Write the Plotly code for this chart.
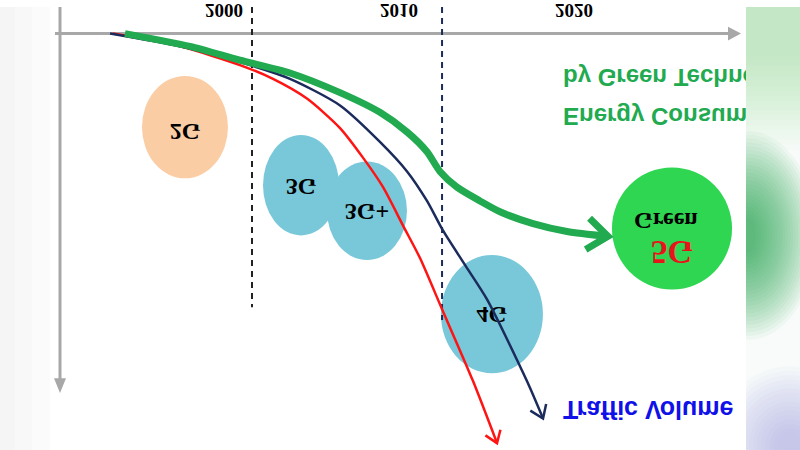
import math
import plotly.graph_objects as go

# ---------------- data ----------------
tick_years = [2000, 2010, 2020]
tick_labels = ["2000", "2010", "2020"]

era_boundary_years = [2001.6, 2012.46]
era_boundary_tops = [69.5, 72.75]

# red curve
red_year = [1993.66, 1997.49, 2000.91, 2002.8, 2004.74, 2006.63, 2007.94, 2009.09, 2010.23, 2011.2, 2012.46, 2014.23, 2015.6]
red_val = [0, 3.25, 8, 11.5, 16.5, 24, 31.5, 39, 48.75, 57, 70, 88.25, 104]

# navy curve: traffic volume
traffic_year = [1993.49, 1997.49, 2000.91, 2003.77, 2006.63, 2008.91, 2010.46, 2011.6, 2012.51, 2013.77, 2015.03, 2017.31, 2018.23]
traffic_val = [0, 3.25, 7.25, 11.5, 18.25, 27.5, 35, 42.5, 50, 58.75, 67.5, 88.25, 97.75]

# green curve: energy consumption by green technology
energy_year = [1994.34, 1998.06, 2000.91, 2003.77, 2006.63, 2008.91, 2010.46, 2011.6, 2012.34, 2013.31, 2014.63, 2015.77, 2017.66, 2019.6, 2021.94]
energy_val = [0, 3.25, 6.75, 10, 15, 20, 25, 30, 35, 39, 42.5, 45.25, 48.25, 50.25, 51.5]

generations = ["2G", "3G", "3G+", "4G"]
gen_year = [1997.77, 2004.4, 2008.17, 2015.31]
gen_val = [23.75, 38.5, 45, 71.25]
gen_colors = ["#FACDA5", "#78C8DA", "#78C8DA", "#78C8DA"]
gen_half_w = [2.457, 2.171, 2.286, 2.914]
gen_half_h = [13, 12.75, 12.5, 15]
gen_label_val = [24.5, 38.5, 44.75, 71.0]

green5g_year = 2025.6
green5g_val = 49.5

# ---------------- geometry ----------------
W, H = 800, 450
X_RANGE = [1987.2, 1987.2 + W / 17.5]
Y_RANGE = [-6.75, -6.75 + H / 4.0]
SX = W / (X_RANGE[1] - X_RANGE[0])
SY = H / (Y_RANGE[1] - Y_RANGE[0])


def to_px(x, y):
    return (x - X_RANGE[0]) * SX, (y - Y_RANGE[0]) * SY


def from_px(px, py):
    return X_RANGE[0] + px / SX, Y_RANGE[0] + py / SY


def chevron(xs, ys, length, half_angle):
    tx, ty = to_px(xs[-1], ys[-1])
    bx, by = to_px(xs[-2], ys[-2])
    dx, dy = tx - bx, ty - by
    n = math.hypot(dx, dy)
    ux, uy = dx / n, dy / n
    out_x, out_y = [], []
    for s in (1, -1):
        a = math.radians(half_angle) * s
        rx = ux * math.cos(a) - uy * math.sin(a)
        ry = ux * math.sin(a) + uy * math.cos(a)
        px, py = tx - length * rx, ty - length * ry
        cx, cy = from_px(px, py)
        out_x.append(cx)
        out_y.append(cy)
    return [out_x[0], xs[-1], out_x[1]], [out_y[0], ys[-1], out_y[1]]


fig = go.Figure()

# bubble labels
fig.add_trace(go.Scatter(
    x=gen_year, y=gen_label_val, mode="text", text=generations,
    textfont=dict(family="Liberation Serif", size=24, color="black", weight="bold"),
    hoverinfo="skip"))
fig.add_trace(go.Scatter(
    x=[green5g_year - 0.35, green5g_year], y=[green5g_val - 2.5, green5g_val + 5.25],
    mode="text", text=["Green", "5G"],
    textfont=dict(family="Liberation Serif", size=[24, 33], color=["black", "#E8141C"], weight="bold"),
    hoverinfo="skip"))

# curves
fig.add_trace(go.Scatter(x=red_year, y=red_val, mode="lines",
                         line=dict(color="#FF1414", width=2.5, shape="spline", smoothing=0.7),
                         hoverinfo="skip"))
fig.add_trace(go.Scatter(x=traffic_year, y=traffic_val, mode="lines",
                         line=dict(color="#1B2B5C", width=2.5, shape="spline", smoothing=0.7),
                         hoverinfo="skip"))
fig.add_trace(go.Scatter(x=energy_year, y=energy_val, mode="lines",
                         line=dict(color="#22AA50", width=7, shape="spline", smoothing=0.7),
                         hoverinfo="skip"))

for xs, ys, col, w, L, ang in [
    (red_year, red_val, "#FF1414", 2.5, 14, 35),
    (traffic_year, traffic_val, "#1B2B5C", 2.5, 15, 35),
    (energy_year, energy_val, "#22AA50", 7, 26, 38),
]:
    cx, cy = chevron(xs, ys, L, ang)
    fig.add_trace(go.Scatter(x=cx, y=cy, mode="lines",
                             line=dict(color=col, width=w), hoverinfo="skip"))

# texts
sans = "Liberation Sans"
fig.add_trace(go.Scatter(
    x=[2019.37, 2019.37], y=[10.5, 20.5], mode="text",
    text=["by Green Technology", "Energy Consumption"], textposition="middle right",
    textfont=dict(family=sans, size=24, color="#22AA50", weight="bold"),
    hoverinfo="skip"))
fig.add_trace(go.Scatter(
    x=[2019.37], y=[95], mode="text", text=["Traffic Volume"], textposition="middle right",
    textfont=dict(family=sans, size=25, color="#1010E8", weight="bold"),
    hoverinfo="skip"))

shapes = []
# bubbles
for yv, vv, c, hw, hh in zip(gen_year, gen_val, gen_colors, gen_half_w, gen_half_h):
    shapes.append(dict(type="circle", xref="x", yref="y", x0=yv - hw, x1=yv + hw,
                       y0=vv - hh, y1=vv + hh, fillcolor=c, line=dict(width=0), layer="below"))
shapes.append(dict(type="circle", xref="x", yref="y", x0=green5g_year - 3.43, x1=green5g_year + 3.43,
                   y0=green5g_val - 15.5, y1=green5g_val + 15.5, fillcolor="#2ED652",
                   line=dict(width=0), layer="below"))
# era dashed lines
for xv, top, col in zip(era_boundary_years, era_boundary_tops, ["#222222", "#1B2B5C"]):
    shapes.append(dict(type="line", xref="x", yref="y", x0=xv, x1=xv, y0=Y_RANGE[0], y1=top,
                       line=dict(color=col, width=2, dash="6px,5px"), layer="below"))


def P(vx, vy):
    return vx / W, vy / H


# left faint background
for x1, col in [(50, "#FBFBFB"), (32, "#F8F8F8"), (15, "#F5F5F5")]:
    shapes.append(dict(type="rect", xref="paper", yref="paper", x0=0, x1=x1 / W, y0=0, y1=1,
                       fillcolor=col, line=dict(width=0), layer="below"))
# axes
ax_col = "#A8A8A8"
x0p, y0p = P(55, 27)
x1p, _ = P(730, 27)
shapes.append(dict(type="line", xref="paper", yref="paper", x0=x0p, x1=x1p, y0=y0p, y1=y0p,
                   line=dict(color=ax_col, width=3), layer="below"))
a, b = P(741, 27); c, d = P(728, 20); e, f = P(728, 34)
shapes.append(dict(type="path", xref="paper", yref="paper",
                   path=f"M {a},{b} L {c},{d} L {e},{f} Z", fillcolor=ax_col,
                   line=dict(width=0), layer="below"))
vx0, vy0 = P(60, 0)
_, vy1 = P(60, 380)
shapes.append(dict(type="line", xref="paper", yref="paper", x0=vx0, x1=vx0, y0=vy0, y1=vy1,
                   line=dict(color=ax_col, width=3), layer="below"))
a, b = P(60, 392); c, d = P(54, 377); e, f = P(66, 377)
shapes.append(dict(type="path", xref="paper", yref="paper",
                   path=f"M {a},{b} L {c},{d} L {e},{f} Z", fillcolor=ax_col,
                   line=dict(width=0), layer="below"))

# right background strip (photo edge)
EDGE = 746
shapes.append(dict(type="rect", xref="paper", yref="paper", x0=EDGE / W, x1=1, y0=0, y1=1,
                   fillcolor="#F8FBF9", line=dict(width=0), layer="above"))


def blob(cx, cy, rx, ry, color, op):
    pts = []
    for i in range(61):
        t = 2 * math.pi * i / 60
        px = min(W + 5, max(EDGE, cx + rx * math.cos(t)))
        py = cy + ry * math.sin(t)
        pts.append(P(px, py))
    path = "M " + " L ".join(f"{x:.5f},{y:.5f}" for x, y in pts) + " Z"
    return dict(type="path", xref="paper", yref="paper", path=path, fillcolor=color,
                opacity=op, line=dict(width=0), layer="above")


# pale mint haze at the top (vertical gradient)
for k in range(20):
    y1 = 145 - k * 5
    shapes.append(dict(type="rect", xref="paper", yref="paper", x0=EDGE / W, x1=1,
                       y0=0, y1=y1 / H, fillcolor="#6CC08E", opacity=0.022,
                       line=dict(width=0), layer="above"))
# green glow in the middle
for k in range(24):
    s = 1 - k / 24
    shapes.append(blob(EDGE + 2, 232, 64 * s + 5, 92 * s + 14, "#12A445", 0.045))
# lavender glow at the bottom
for k in range(16):
    s = 1 - k / 16
    shapes.append(blob(790, 445, 66 * s + 8, 72 * s + 8, "#9696EC", 0.04))

fig.update_layout(
    width=W, height=H, margin=dict(l=0, r=0, t=0, b=0),
    paper_bgcolor="white", plot_bgcolor="rgba(0,0,0,0)",
    showlegend=False, hovermode=False,
    shapes=shapes,
    xaxis=dict(range=X_RANGE, showgrid=False, zeroline=False, showline=False,
               tickvals=tick_years, ticktext=tick_labels, ticks="outside", ticklen=6,
               tickcolor="rgba(0,0,0,0)", anchor="free", position=27 / H,
               tickfont=dict(family="Liberation Serif", size=19, color="black", weight="bold")),
    yaxis=dict(range=Y_RANGE, showgrid=False, zeroline=False, showline=False,
               showticklabels=False, ticks=""),
)

post = ("var gd=document.getElementById('{plot_id}');"
        "gd.style.transform='scaleY(-1)';"
        "document.body.style.margin='0';document.body.style.overflow='hidden';")
fig.write_html("out.html", post_script=post, config={"staticPlot": True})
